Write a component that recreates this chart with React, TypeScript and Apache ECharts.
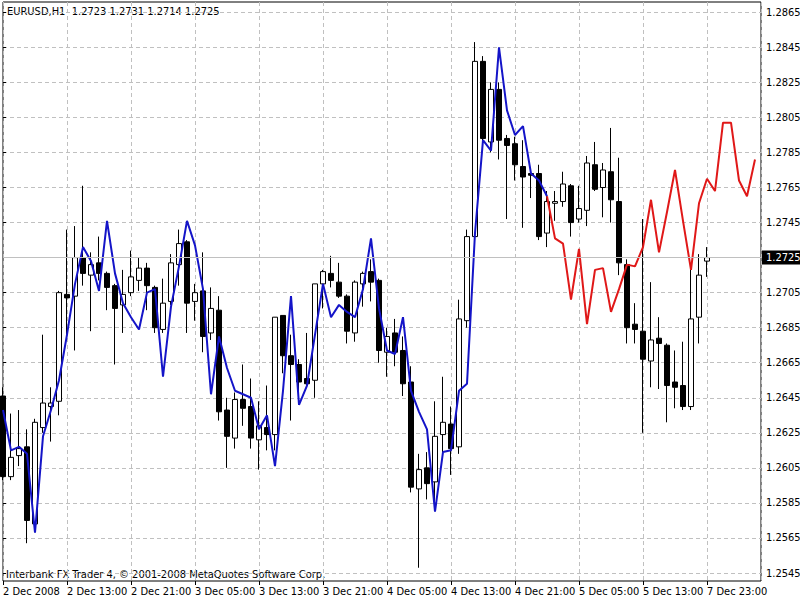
import React, { useEffect, useRef } from "react";
import * as echarts from "echarts";

// ---- texts ----
const symbolTitle = "EURUSD,H1";
const copyrightText = "Interbank FX Trader 4, © 2001-2008 MetaQuotes Software Corp.";
const tickLabels = [
  "2 Dec 2008", "2 Dec 13:00", "2 Dec 21:00", "3 Dec 05:00", "3 Dec 13:00", "3 Dec 21:00",
  "4 Dec 05:00", "4 Dec 13:00", "4 Dec 21:00", "5 Dec 05:00", "5 Dec 13:00", "7 Dec 23:00",
];
const barsPerTick = 8;

// ---- price axis ----
const priceMin = 1.2545;
const priceMax = 1.2865;
const priceStep = 0.002;
const currentPrice = 1.2725;

// ---- H1 candles (bar index 0 = 2 Dec 05:00) ----
const opens = [
  1.2646, 1.2600, 1.2612, 1.2617, 1.2573, 1.2628, 1.2640, 1.2643, 1.2704, 1.2703,
  1.2725, 1.2715, 1.2722, 1.2716, 1.2709, 1.2698, 1.2705, 1.2712, 1.2719, 1.2708,
  1.2684, 1.2700, 1.2721, 1.2734, 1.2700, 1.2706, 1.2682, 1.2695, 1.2638, 1.2622,
  1.2644, 1.2640, 1.2621, 1.2628, 1.2624, 1.2692, 1.2669, 1.2664, 1.2656, 1.2655,
  1.2710, 1.2716, 1.2711, 1.2703, 1.2682, 1.2710, 1.2717, 1.2712, 1.2671, 1.2682,
  1.2672, 1.2654, 1.2593, 1.2605, 1.2597, 1.2624, 1.2630, 1.2617, 1.2689, 1.2737,
  1.2837, 1.2791, 1.2821, 1.2793, 1.2790, 1.2777, 1.2773, 1.2773, 1.2739, 1.2756,
  1.2757, 1.2766, 1.2747, 1.2752, 1.2778, 1.2765, 1.2774, 1.2757, 1.2721, 1.2687,
  1.2683, 1.2666, 1.2679, 1.2675, 1.2654, 1.2652, 1.2640, 1.2691, 1.2723,
];
const highs = [
  1.2651, 1.2636, 1.2638, 1.2627, 1.2633, 1.2681, 1.2651, 1.2706, 1.2741, 1.2743,
  1.2766, 1.2728, 1.2737, 1.2717, 1.2710, 1.2718, 1.2729, 1.2725, 1.2722, 1.2709,
  1.2713, 1.2727, 1.2741, 1.2735, 1.2710, 1.2728, 1.2708, 1.2703, 1.2645, 1.2648,
  1.2664, 1.2656, 1.2643, 1.2652, 1.2691, 1.2692, 1.2681, 1.2667, 1.2682, 1.2710,
  1.2718, 1.2726, 1.2722, 1.2704, 1.2712, 1.2717, 1.2724, 1.2713, 1.2685, 1.2690,
  1.2680, 1.2663, 1.2613, 1.2614, 1.2643, 1.2657, 1.2640, 1.2701, 1.2741, 1.2848,
  1.2840, 1.2825, 1.2825, 1.2795, 1.2794, 1.2792, 1.2773, 1.2778, 1.2763, 1.2763,
  1.2774, 1.2767, 1.2766, 1.2783, 1.2791, 1.2779, 1.2799, 1.2782, 1.2724, 1.2699,
  1.2747, 1.2711, 1.2691, 1.2676, 1.2672, 1.2677, 1.2718, 1.2727, 1.2731,
];
const lows = [
  1.2598, 1.2598, 1.2606, 1.2562, 1.2571, 1.2625, 1.2620, 1.2635, 1.2680, 1.2672,
  1.2709, 1.2683, 1.2712, 1.2695, 1.2664, 1.2682, 1.2703, 1.2706, 1.2695, 1.2682,
  1.2682, 1.2698, 1.2709, 1.2682, 1.2689, 1.2671, 1.2678, 1.2632, 1.2605, 1.2616,
  1.2629, 1.2616, 1.2604, 1.2615, 1.2615, 1.2659, 1.2632, 1.2641, 1.2652, 1.2645,
  1.2696, 1.2708, 1.2702, 1.2676, 1.2677, 1.2697, 1.2700, 1.2665, 1.2657, 1.2663,
  1.2646, 1.2591, 1.2548, 1.2587, 1.2585, 1.2614, 1.2601, 1.2613, 1.2685, 1.2736,
  1.2792, 1.2785, 1.2781, 1.2747, 1.2769, 1.2742, 1.2759, 1.2735, 1.2731, 1.2746,
  1.2754, 1.2737, 1.2745, 1.2743, 1.2763, 1.2748, 1.2745, 1.2715, 1.2676, 1.2676,
  1.2625, 1.2651, 1.2650, 1.2631, 1.2639, 1.2638, 1.2638, 1.2676, 1.2714,
];
const closes = [
  1.2600, 1.2611, 1.2616, 1.2575, 1.2631, 1.2642, 1.2642, 1.2705, 1.2702, 1.2725,
  1.2716, 1.2721, 1.2716, 1.2708, 1.2696, 1.2704, 1.2714, 1.2719, 1.2709, 1.2685,
  1.2699, 1.2722, 1.2733, 1.2699, 1.2705, 1.2680, 1.2696, 1.2637, 1.2623, 1.2644,
  1.2639, 1.2622, 1.2629, 1.2624, 1.2691, 1.2669, 1.2664, 1.2654, 1.2653, 1.2710,
  1.2717, 1.2712, 1.2703, 1.2683, 1.2711, 1.2716, 1.2711, 1.2672, 1.2680, 1.2671,
  1.2653, 1.2594, 1.2604, 1.2596, 1.2623, 1.2631, 1.2616, 1.2690, 1.2737, 1.2837,
  1.2793, 1.2821, 1.2792, 1.2789, 1.2778, 1.2771, 1.2772, 1.2737, 1.2757, 1.2757,
  1.2767, 1.2745, 1.2753, 1.2779, 1.2764, 1.2775, 1.2758, 1.2722, 1.2685, 1.2684,
  1.2667, 1.2678, 1.2676, 1.2652, 1.2651, 1.2640, 1.2690, 1.2715, 1.2725,
];

// ---- indicator lines ----
const blueStart = 0;
const blueLine = [
  1.2638, 1.2615, 1.2617, 1.2613, 1.2568, 1.2623, 1.2638, 1.2655, 1.2681, 1.2710,
  1.2731, 1.2723, 1.2706, 1.2746, 1.2716, 1.2699, 1.2691, 1.2684, 1.2705, 1.2707,
  1.2657, 1.2697, 1.2720, 1.2746, 1.2732, 1.2707, 1.2647, 1.2680, 1.2662, 1.2649,
  1.2647, 1.2645, 1.2627, 1.2635, 1.2606, 1.2649, 1.2703, 1.2641, 1.2652, 1.2681,
  1.2710, 1.2691, 1.2698, 1.2694, 1.2691, 1.2707, 1.2736, 1.2696, 1.2672, 1.2670,
  1.2691, 1.2649, 1.2637, 1.2627, 1.2580, 1.2614, 1.2615, 1.2649, 1.2653, 1.2739,
  1.2792, 1.2786, 1.2845, 1.2809, 1.2795, 1.2800, 1.2773, 1.2769, 1.2760,
];
const redStart = 68;
const redLine = [
  1.2760, 1.2736, 1.2733, 1.2701, 1.2730, 1.2687, 1.2718, 1.2719, 1.2694, 1.2707,
  1.2721, 1.2720, 1.2731, 1.2758, 1.2728, 1.2751, 1.2775, 1.2746, 1.2718, 1.2756,
  1.2770, 1.2763, 1.2802, 1.2802, 1.2769, 1.2760, 1.2781,
];

const FONT = "'Liberation Sans Narrow', 'DejaVu Sans Condensed', 'Liberation Sans', sans-serif";
const GRID_COLOR = "#c0c0c0";

// price -> axis units (pips above priceMin)
const toUnits = (p: number) => Math.round((p - priceMin) * 10000);
const fromUnits = (u: number) => (priceMin + u / 10000).toFixed(4);

export default function App() {
  const ref = useRef<HTMLDivElement>(null);

  useEffect(() => {
    if (!ref.current) return;
    const chart = echarts.init(ref.current, null, { renderer: "svg" });

    const frameLeft = 3;
    const frameRight = 39;
    const xMax = (800 - frameLeft - frameRight) / 8; // 8 px per bar

    const candles = opens.map((o, i) => [
      i,
      toUnits(o),
      toUnits(closes[i]),
      toUnits(lows[i]),
      toUnits(highs[i]),
    ]);
    const blueData = blueLine.map((p, k) => [blueStart + k, toUnits(p)]);
    const redData = redLine.map((p, k) => [redStart + k, toUnits(p)]);
    const last = opens.length - 1;
    const header =
      symbolTitle +
      "  " +
      [opens[last], highs[last], lows[last], closes[last]].map((v) => v.toFixed(4)).join(" ");

    const option: any = {
      animation: false,
      backgroundColor: "#ffffff",
      textStyle: { fontFamily: FONT },
      grid: [
        {
          left: frameLeft, right: frameRight, top: 2, bottom: 19,
          show: true, borderColor: "#000", borderWidth: 1, backgroundColor: "transparent",
          containLabel: false, outerBoundsMode: "none",
        },
        {
          left: frameLeft, right: frameRight, top: 12.3, bottom: 27,
          show: false, containLabel: false, outerBoundsMode: "none",
        },
      ],
      xAxis: [
        {
          gridIndex: 0, type: "value", min: 0, max: xMax, interval: barsPerTick,
          axisLine: { show: false },
          axisTick: { show: true, length: 4, lineStyle: { color: "#000", width: 1 } },
          axisLabel: {
            show: true, align: "left", margin: 5, color: "#000", fontSize: 11, fontFamily: FONT,
            showMinLabel: true, showMaxLabel: false, hideOverlap: false,
            formatter: (v: number) => {
              const k = Math.round(v / barsPerTick);
              return Math.abs(v - k * barsPerTick) < 1e-6 && tickLabels[k] ? tickLabels[k] : "";
            },
          },
          splitLine: { show: true, lineStyle: { color: GRID_COLOR, width: 1, type: [4, 3] } },
        },
        { gridIndex: 1, type: "value", min: 0, max: xMax, show: false },
      ],
      yAxis: [
        { gridIndex: 0, type: "value", min: 0, max: 1, show: false },
        {
          gridIndex: 1, type: "value", position: "right",
          min: 0, max: toUnits(priceMax), interval: toUnits(priceMin + priceStep),
          axisLine: { show: false },
          axisTick: { show: true, length: 3, inside: false, lineStyle: { color: "#000" } },
          axisLabel: {
            show: true, margin: 5, color: "#000", fontSize: 11, fontFamily: FONT,
            showMinLabel: true, showMaxLabel: true,
            formatter: (v: number) => fromUnits(v),
          },
          splitLine: { show: true, lineStyle: { color: GRID_COLOR, width: 1, type: [4, 3] } },
        },
      ],
      graphic: [
        {
          type: "text", x: 7, y: 6, silent: true,
          style: { text: header, fill: "#000", font: `11px ${FONT}`, align: "left", verticalAlign: "top" },
        },
        {
          type: "text", x: 6, y: 569, silent: true,
          style: { text: copyrightText, fill: "#000", font: `11px ${FONT}`, align: "left", verticalAlign: "top" },
        },
      ],
      series: [
        {
          type: "candlestick",
          xAxisIndex: 1, yAxisIndex: 1,
          data: candles,
          barWidth: 5,
          silent: true,
          itemStyle: {
            color: "#ffffff", color0: "#000000",
            borderColor: "#000000", borderColor0: "#000000", borderWidth: 1,
          },
          emphasis: { disabled: true },
          markLine: {
            silent: true,
            symbol: ["none", "none"],
            lineStyle: { color: GRID_COLOR, type: "solid", width: 1 },
            label: {
              show: true, position: "end", distance: 1,
              formatter: currentPrice.toFixed(4),
              color: "#fff", backgroundColor: "#000", padding: [2, 4, 1, 4],
              fontSize: 11, fontFamily: FONT,
            },
            emphasis: { disabled: true },
            data: [{ yAxis: toUnits(currentPrice) }],
          },
        },
        {
          type: "line", xAxisIndex: 1, yAxisIndex: 1,
          data: blueData, showSymbol: false, symbol: "none", silent: true,
          lineStyle: { color: "#1414c8", width: 2 }, z: 3,
        },
        {
          type: "line", xAxisIndex: 1, yAxisIndex: 1,
          data: redData, showSymbol: false, symbol: "none", silent: true,
          lineStyle: { color: "#e01818", width: 2 }, z: 3,
        },
      ],
    };

    chart.setOption(option);
    return () => chart.dispose();
  }, []);

  return (
    <div
      ref={ref}
      style={{ position: "fixed", left: 0, top: 0, width: 800, height: 600, background: "#fff" }}
    />
  );
}
